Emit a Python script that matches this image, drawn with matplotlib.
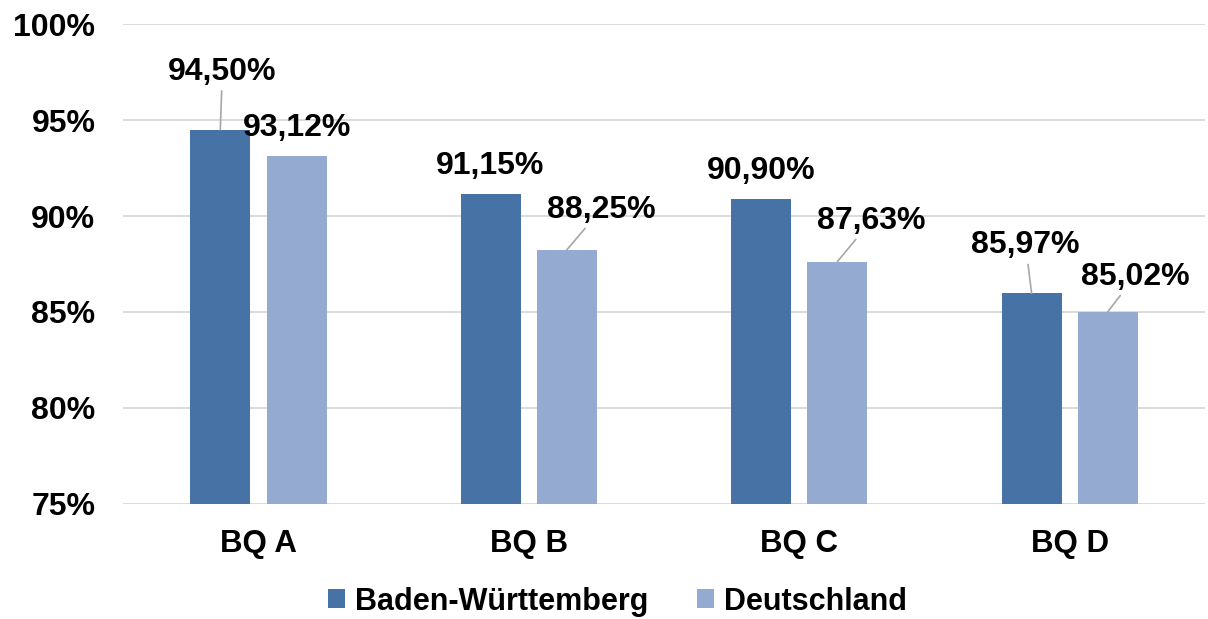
import matplotlib.pyplot as plt
import numpy as np

plt.rcParams['font.family'] = ['Liberation Sans', 'DejaVu Sans']
plt.rcParams['font.weight'] = 'bold'

categories = ['BQ A', 'BQ B', 'BQ C', 'BQ D']
bw_values = [94.50, 91.15, 90.90, 85.97]
de_values = [93.12, 88.25, 87.63, 85.02]
series_names = ['Baden-Württemberg', 'Deutschland']

# label offsets in pixels (dx, dy) and whether a leader line is drawn
bw_offsets = [(2, 58, True), (-1, 28, False), (0, 28, False), (-6, 48, True)]
de_offsets = [(0, 28, False), (34, 40, True), (34, 41, True), (27, 35, True)]

dark = '#4672A6'
light = '#95AAD1'

fig = plt.figure(figsize=(12.08, 6.19), dpi=100)
ax = fig.add_axes([0.102, 0.186, 0.8955, 0.775])

x = np.arange(len(categories))
w = 0.222
off = 0.141
b1 = ax.bar(x - off, bw_values, w, color=dark, label=series_names[0], zorder=3)
b2 = ax.bar(x + off, de_values, w, color=light, label=series_names[1], zorder=3)

ax.set_ylim(75, 100)
ax.set_xlim(-0.5, 3.5)
ax.set_yticks([75, 80, 85, 90, 95, 100])
ax.set_yticklabels([f'{v}%' for v in [75, 80, 85, 90, 95, 100]])
ax.set_xticks(x)
ax.set_xticklabels(categories)
ax.tick_params(axis='both', length=0, labelsize=23)
ax.tick_params(axis='x', labelsize=22.5, pad=18)
ax.tick_params(axis='y', pad=20)
ax.grid(axis='y', color='#D9D9D9', linewidth=1.3, zorder=0)
for s in ax.spines.values():
    s.set_visible(False)

def fmt(v):
    return f'{v:.2f}%'.replace('.', ',')

for bars, vals, offs in [(b1, bw_values, bw_offsets), (b2, de_values, de_offsets)]:
    for bar, v, (dx, dy, lead) in zip(bars, vals, offs):
        xc = bar.get_x() + bar.get_width() / 2
        ap = dict(arrowstyle='-', color='#A6A6A6', lw=1.2, shrinkA=1, shrinkB=0) if lead else None
        ax.annotate(fmt(v), xy=(xc, v), xytext=(dx, dy), textcoords='offset pixels',
                    ha='center', va='center', fontsize=23, fontweight='bold',
                    arrowprops=ap, zorder=4)

ax.legend(loc='upper center', bbox_to_anchor=(0.457, -0.115), ncol=2, frameon=False,
          fontsize=22, handlelength=0.56, handleheight=0.56, handletextpad=0.33,
          columnspacing=1.57)

fig.savefig('out.png', dpi=100)
